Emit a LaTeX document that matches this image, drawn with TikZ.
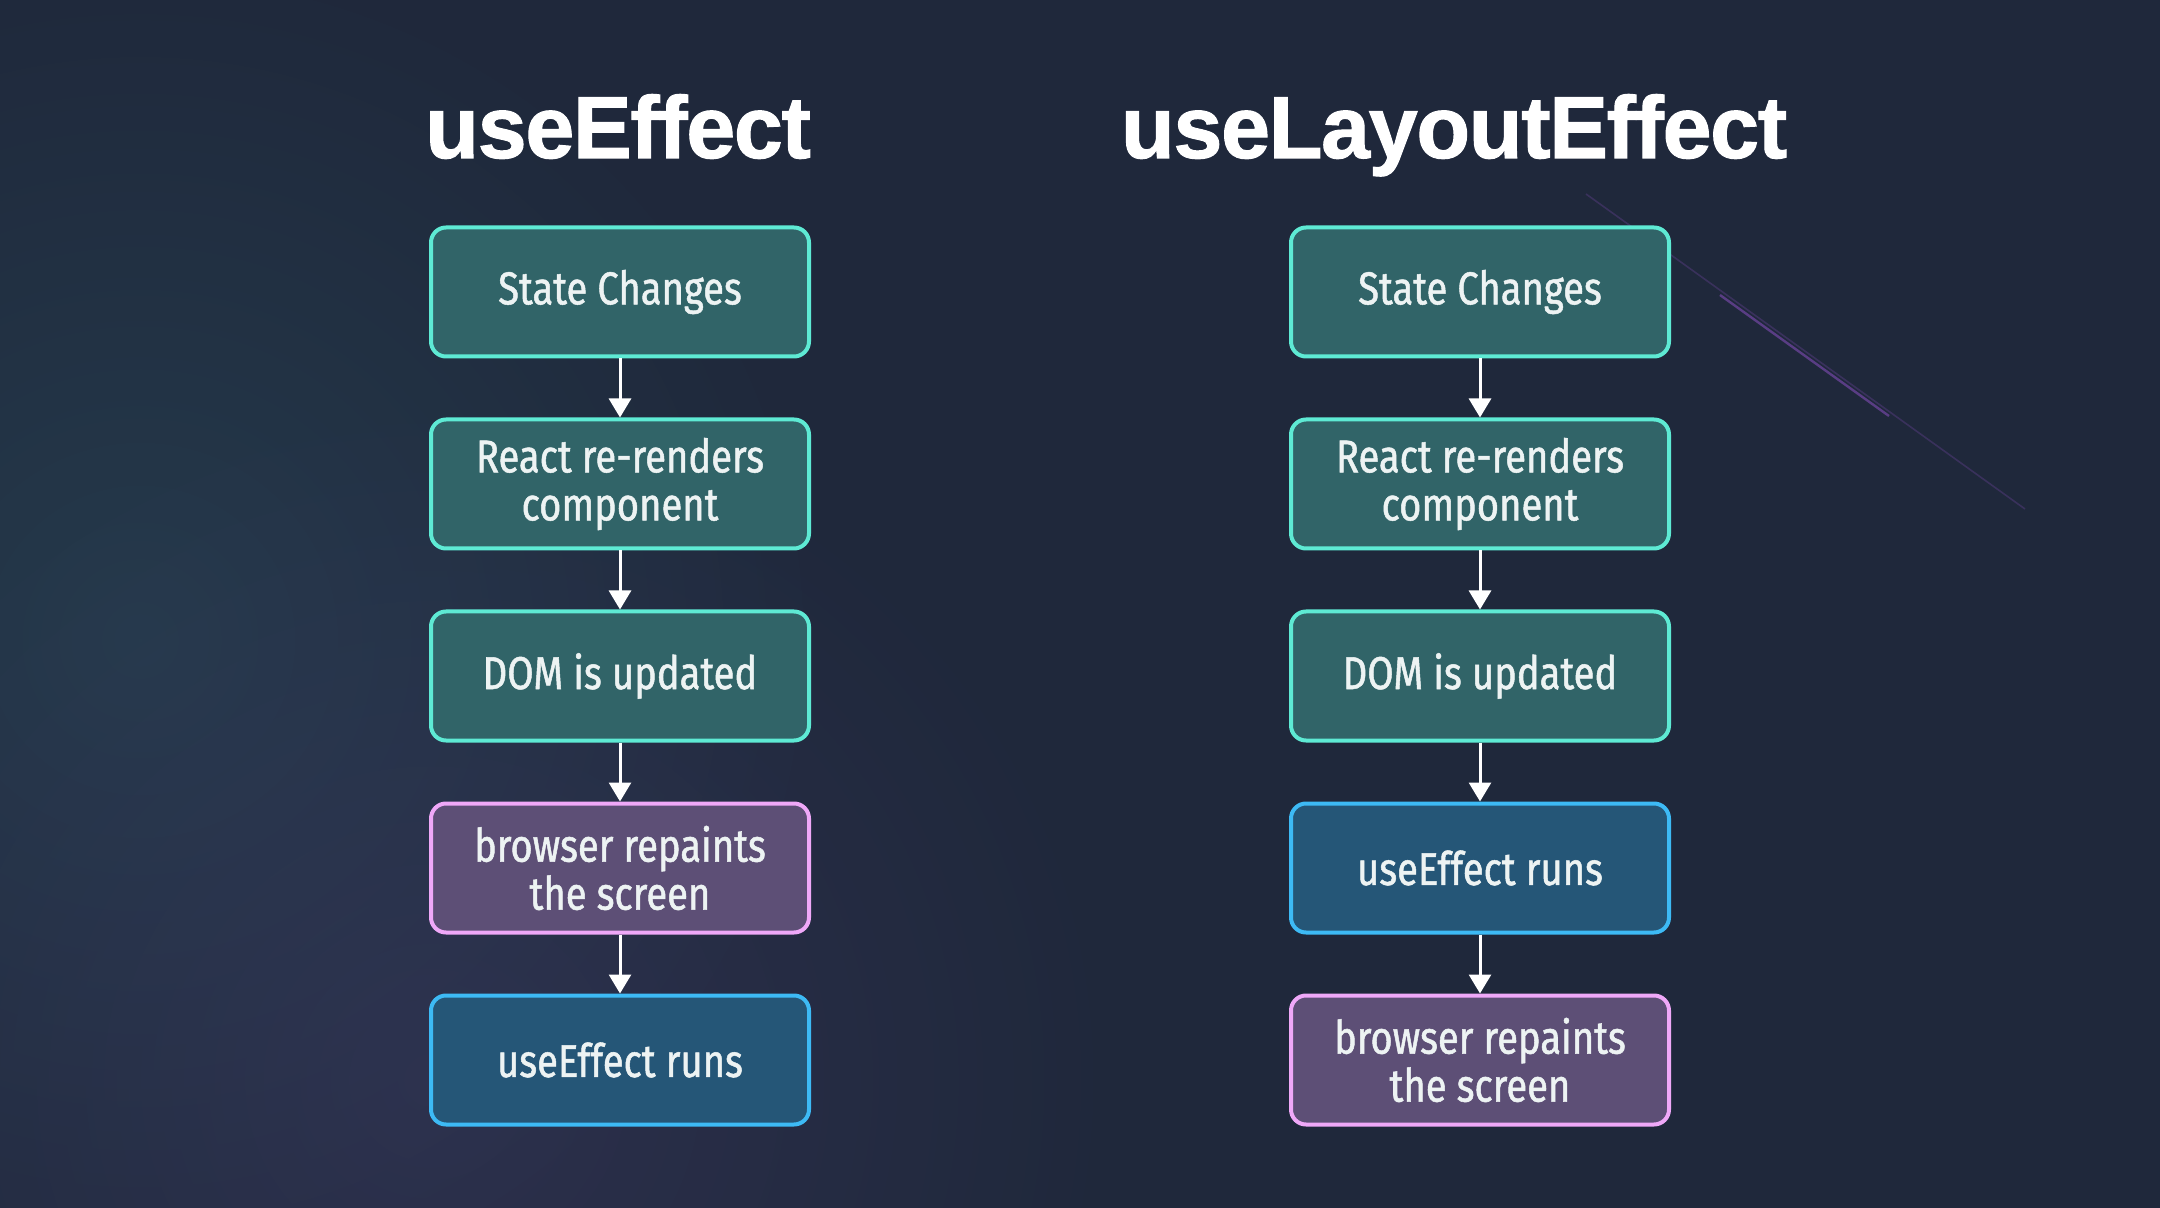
\documentclass[tikz,border=0pt]{standalone}
\usepackage{fontspec}
\setmainfont{Liberation Sans}
\newfontfamily\titlefont[LetterSpace=-1.5,FakeBold=1.2]{Liberation Sans}
\newfontfamily\boxfont[FakeStretch=0.83,FakeBold=1.1]{Fira Sans}
\usetikzlibrary{arrows.meta,fadings}

\definecolor{bg}{HTML}{1F283B}
\definecolor{boxtext}{HTML}{EDF3F3}
\definecolor{tealfill}{HTML}{316468}
\definecolor{tealline}{HTML}{5EEAD4}
\definecolor{plumfill}{HTML}{5D4F76}
\definecolor{plumline}{HTML}{EFA8F8}
\definecolor{skyfill}{HTML}{255677}
\definecolor{skyline}{HTML}{3DBAF5}
\definecolor{glowteal}{HTML}{2C5060}
\definecolor{glowplum}{HTML}{3E3A63}
\definecolor{streak}{HTML}{8A4FC0}

\tikzfading[name=glowfade, inner color=transparent!55, outer color=transparent!100]

\begin{document}
\begin{tikzpicture}[x=0.5pt,y=-0.5pt,
    flow/.style={draw, line width=2pt, rounded corners=7.5pt,
      minimum width=189pt, minimum height=64.5pt, inner sep=0pt,
      align=center, text=boxtext, font=\boxfont\fontsize{23}{24}\selectfont},
    tealbox/.style={flow, draw=tealline, fill=tealfill},
    plumbox/.style={flow, draw=plumline, fill=plumfill},
    skybox/.style={flow, draw=skyline, fill=skyfill},
    flowarrow/.style={white, line width=1.5pt, -{Triangle[width=11pt,length=9.5pt]}},
    heading/.style={anchor=base, text=white, font=\titlefont\bfseries\fontsize{44}{44}\selectfont}]
      \useasboundingbox (0,0) rectangle (2160,1208);
      \fill[bg] (0,0) rectangle (2160,1208);

      % soft glows and streak in the background
      \fill[glowteal, path fading=glowfade] (140,640) circle (700);
      \fill[glowplum, path fading=glowfade] (430,1080) circle (700);
      \draw[streak, line width=0.8pt, opacity=0.25] (1586,194) -- (2025,509);
      \draw[streak, line width=1.2pt, opacity=0.55] (1720,295) -- (1889,416);

      % headings
      \node[heading] (headA) at (618,158) {useEffect};
      \node[heading] (headB) at (1454,158) {useLayoutEffect};

      % useEffect column
      \node[tealbox] (aState) at (620,292) {State Changes};
      \node[tealbox] (aRender) at (620,484) {React re-renders\\component};
      \node[tealbox] (aDom) at (620,676) {DOM is updated};
      \node[plumbox] (aPaint) at (620,868) {browser repaints\\the screen};
      \node[skybox] (aRun) at (620,1060) {useEffect runs};

      % useLayoutEffect column
      \node[tealbox] (bState) at (1480,292) {State Changes};
      \node[tealbox] (bRender) at (1480,484) {React re-renders\\component};
      \node[tealbox] (bDom) at (1480,676) {DOM is updated};
      \node[skybox] (bRun) at (1480,868) {useEffect runs};
      \node[plumbox] (bPaint) at (1480,1060) {browser repaints\\the screen};

      \foreach \a/\b in {aState/aRender, aRender/aDom, aDom/aPaint, aPaint/aRun,
        bState/bRender, bRender/bDom, bDom/bRun, bRun/bPaint}
        \draw[flowarrow] (\a.south) -- (\b.north);
    \end{tikzpicture}
\end{document}
